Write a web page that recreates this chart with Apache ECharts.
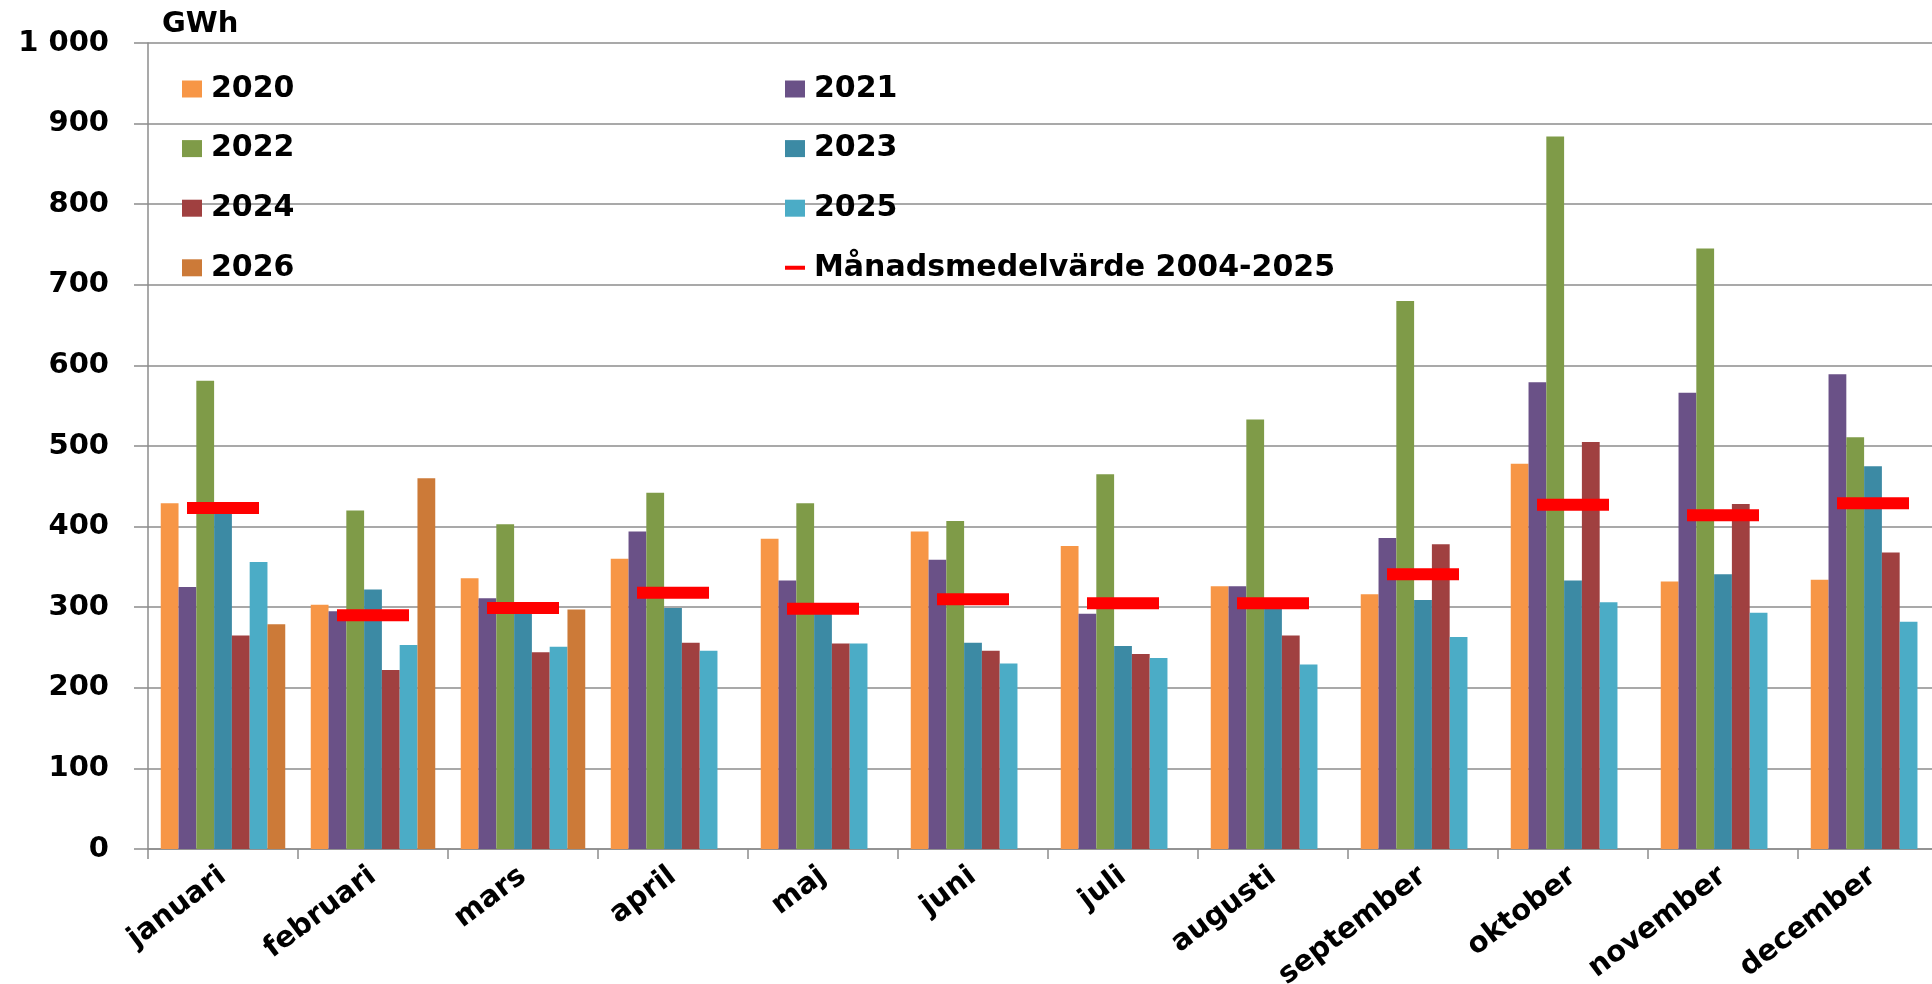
<!DOCTYPE html>
<html>
<head>
<meta charset="utf-8">
<script src="https://cdn.jsdelivr.net/npm/echarts@6/dist/echarts.min.js"></script>
<style>
html,body{margin:0;padding:0;background:#fff;}
#chart{width:1932px;height:984px;}
</style>
</head>
<body>
<div id="chart"></div>
<script>
const months = ['januari','februari','mars','april','maj','juni','juli','augusti','september','oktober','november','december'];
const yTickValues = [0,100,200,300,400,500,600,700,800,900,1000];
const yTickLabels = ['0','100','200','300','400','500','600','700','800','900','1 000'];
const unitLabel = 'GWh';

const y2020 = [429, 303, 336, 360, 385, 394, 376, 326, 316, 478, 332, 334];
const y2021 = [325, 295, 311, 394, 333, 359, 292, 326, 386, 579, 566, 589];
const y2022 = [581, 420, 403, 442, 429, 407, 465, 533, 680, 884, 745, 511];
const y2023 = [418, 322, 295, 299, 295, 256, 252, 300, 309, 333, 341, 475];
const y2024 = [265, 222, 244, 256, 255, 246, 242, 265, 378, 505, 428, 368];
const y2025 = [356, 253, 251, 246, 255, 230, 237, 229, 263, 306, 293, 282];
const y2026 = [279, 460, 297, null, null, null, null, null, null, null, null, null];
const avgName = 'Månadsmedelvärde 2004-2025';
const avg = [423, 290, 299, 318, 298, 310, 305, 305, 341, 427, 414, 429];

const seriesNames = ['2020','2021','2022','2023','2024','2025','2026'];
const seriesData = [y2020, y2021, y2022, y2023, y2024, y2025, y2026];
const colors = ['#F79646','#6A5187','#7F9B48','#3C8AA4','#A04040','#4BACC6','#CC7A38'];

const FONT = 'DejaVu Sans';
const chart = echarts.init(document.getElementById('chart'), null, {renderer:'canvas'});

const barSeries = seriesNames.map((n, i) => ({
  name: n,
  type: 'bar',
  data: seriesData[i],
  barGap: '0%',
  barCategoryGap: '17%',
  itemStyle: { color: colors[i] },
  z: 2
}));

const legendText = { fontFamily: FONT, fontSize: 30, fontWeight: 'bold', color: '#000', lineHeight: 32, padding: [0,0,0,4] };
const avgIcon = 'path://M0,0 L0.01,0 L0.01,0.01 Z M0,6 L25,6 L25,11 L0,11 Z M0,17 L0.01,17 L0.01,16.99 Z';

chart.setOption({
  animation: false,
  backgroundColor: '#fff',
  title: {
    text: unitLabel,
    left: 157, top: 5,
    textStyle: { fontFamily: FONT, fontSize: 29, fontWeight: 'bold', color: '#000' }
  },
  legend: [
    {
      orient: 'vertical', left: 177, top: 68,
      itemWidth: 20, itemHeight: 17, itemGap: 27.6,
      data: ['2020','2022','2024','2026'],
      textStyle: legendText,
      icon: 'rect'
    },
    {
      orient: 'vertical', left: 780, top: 68,
      itemWidth: 20, itemHeight: 17, itemGap: 27.6,
      data: [
        {name:'2021', icon:'rect'}, {name:'2023', icon:'rect'}, {name:'2025', icon:'rect'},
        {name: avgName, icon: avgIcon}
      ],
      textStyle: legendText
    }
  ],
  grid: { left: 148, top: 43, width: 1800, height: 806, containLabel: false, outerBoundsMode: 'none' },
  xAxis: {
    type: 'category',
    data: months,
    boundaryGap: true,
    axisLine: { lineStyle: { color: '#8c8c8c', width: 1.5 } },
    axisTick: { show: true, length: 10, lineStyle: { color: '#8c8c8c', width: 1.5 } },
    axisLabel: {
      interval: 0, rotate: 37, margin: 24,
      fontFamily: FONT, fontSize: 29, fontWeight: 'bold', color: '#000'
    },
    splitLine: { show: false }
  },
  yAxis: {
    type: 'value',
    min: yTickValues[0], max: yTickValues[yTickValues.length-1], interval: 100,
    axisLine: { show: true, lineStyle: { color: '#8c8c8c', width: 1.5 } },
    axisTick: { show: true, length: 14, lineStyle: { color: '#8c8c8c', width: 1.5 } },
    axisLabel: {
      margin: 39,
      fontFamily: FONT, fontSize: 29, fontWeight: 'bold', color: '#000',
      formatter: v => { const k = yTickValues.indexOf(v); return k >= 0 ? yTickLabels[k] : String(v); }
    },
    splitLine: { show: true, lineStyle: { color: '#8c8c8c', width: 1.5 } }
  },
  series: barSeries.concat([{
    name: avgName,
    type: 'scatter',
    data: avg,
    symbol: 'rect',
    symbolSize: [72, 12],
    itemStyle: { color: '#FF0000', opacity: 1 },
    z: 5
  }])
});
</script>
</body>
</html>
